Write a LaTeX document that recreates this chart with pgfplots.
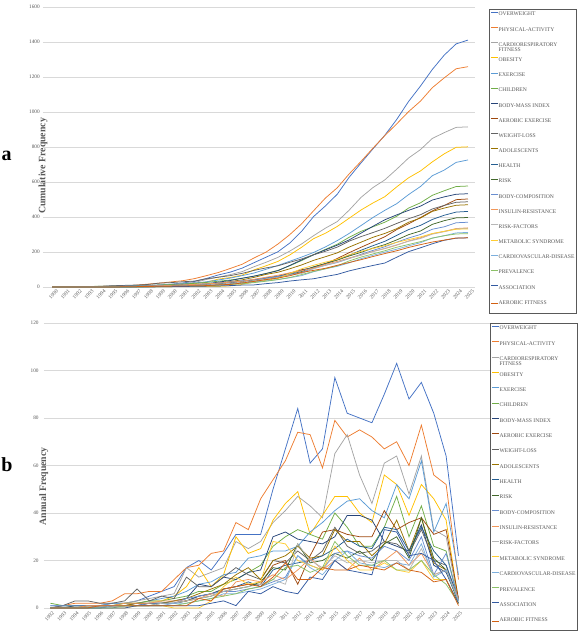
\documentclass[border=0pt]{standalone}
\usepackage{pgfplots}
\usepackage{pgfplotstable}
\pgfplotsset{compat=1.18}
\usepackage{fontspec}
\setmainfont{Liberation Serif}
\definecolor{c1}{HTML}{4472C4}\definecolor{c2}{HTML}{ED7D31}\definecolor{c3}{HTML}{A5A5A5}\definecolor{c4}{HTML}{FFC000}
\definecolor{c5}{HTML}{5B9BD5}\definecolor{c6}{HTML}{70AD47}\definecolor{c7}{HTML}{264478}\definecolor{c8}{HTML}{9E480E}
\definecolor{c9}{HTML}{636363}\definecolor{c10}{HTML}{997300}\definecolor{c11}{HTML}{255E91}\definecolor{c12}{HTML}{43682B}
\definecolor{c13}{HTML}{698ED0}\definecolor{c14}{HTML}{F1975A}\definecolor{c15}{HTML}{B7B7B7}\definecolor{c16}{HTML}{FFCD33}
\definecolor{c17}{HTML}{7CAFDD}\definecolor{c18}{HTML}{8CC168}\definecolor{c19}{HTML}{335AA1}\definecolor{c20}{HTML}{D26012}
\definecolor{gridc}{HTML}{D9D9D9}\definecolor{txtc}{HTML}{595959}

\pgfplotstableread{
name 1992 1993 1994 1995 1996 1997 1998 1999 2000 2001 2002 2003 2004 2005 2006 2007 2008 2009 2010 2011 2012 2013 2014 2015 2016 2017 2018 2019 2020 2021 2022 2023 2024 2025
OW 0 1 1 1 1 2 2 3 5 7 9 17 20 16 23 31 31 31 50 67 84 61 67 97 82 80 78 90 103 88 95 82 64 22
PA 0 1 2 2 2 3 6 6 7 7 12 17 18 23 24 36 33 46 54 62 74 73 59 79 72 75 72 67 70 60 77 56 52 12
CRF 0 1 1 1 1 2 2 3 4 5 6 17 13 15 17 28 25 28 36 41 47 43 38 65 73 56 44 61 64 48 64 33 30 3
OB 0 0 1 1 1 1 2 2 3 3 5 9 17 9 14 30 23 25 37 44 49 31 39 47 47 40 36 56 52 39 52 46 37 3
EX 1 1 1 1 1 2 2 2 3 4 5 7 10 11 14 15 21 22 24 24 26 32 36 41 45 46 41 38 52 46 62 32 44 14
CH 2 1 1 1 1 1 2 2 3 3 4 5 7 7 10 12 15 18 26 30 33 31 29 40 34 26 26 34 47 30 43 26 24 3
BMI 0 0 1 1 1 1 1 2 2 2 3 4 10 9 13 12 15 16 30 32 29 28 27 30 39 39 37 28 26 24 35 18 15 3
AEX 0 0 0 0 1 1 1 1 2 2 2 3 5 6 8 9 10 10 18 20 10 22 32 33 31 30 30 41 33 36 38 31 33 4
WL 0 1 3 3 2 2 3 8 3 5 4 13 9 9 13 17 14 12 20 19 24 20 24 34 26 23 24 28 27 23 33 20 18 3
ADO 0 0 0 1 1 1 1 2 2 2 3 4 6 8 10 14 17 12 20 22 26 21 22 33 28 28 22 27 37 24 38 19 16 3
HE 0 0 0 0 1 1 1 1 2 2 2 3 5 6 8 9 11 9 16 18 19 20 22 25 29 26 25 34 33 24 34 24 18 4
RI 0 0 0 0 0 1 1 1 1 2 2 3 4 5 7 8 9 11 17 16 27 19 20 23 21 24 20 27 30 21 38 21 16 2
BC 1 1 1 1 1 1 1 1 2 2 2 4 5 6 7 7 8 9 11 13 22 18 16 23 24 22 21 26 24 20 30 14 23 3
IR 0 0 0 1 1 1 2 2 2 3 3 3 4 6 5 11 12 11 14 12 16 21 16 20 16 21 16 20 24 18 23 14 16 4
RF 0 0 0 0 1 1 1 1 1 2 2 3 4 5 7 8 9 10 12 10 27 20 17 22 19 20 19 20 20 16 25 14 16 3
MS 0 0 0 0 0 0 0 1 1 1 0 0 0 3 9 13 10 11 28 27 20 18 16 26 20 16 16 19 16 15 20 12 12 2
CVD 0 0 0 0 0 1 1 1 1 1 2 2 3 4 6 6 7 8 10 12 22 17 14 20 24 19 18 17 19 18 27 13 16 3
PR 0 0 0 0 0 0 1 1 1 1 1 2 3 4 5 6 8 9 12 17 18 15 17 28 22 18 18 20 16 16 20 14 10 2
AS 0 0 0 0 0 0 0 1 1 1 1 1 1 2 3 1 7 6 9 7 6 13 12 20 16 15 14 33 32 22 23 20 12 2
AF 0 0 0 0 1 1 1 1 1 1 1 1 4 3 8 9 10 9 13 19 12 12 17 16 16 18 17 16 19 16 15 11 12 1
}\annualraw
\pgfplotstabletranspose[colnames from=name]\annual{\annualraw}

\pgfplotstableread{
name 1990 1991 1992 1993 1994 1995 1996 1997 1998 1999 2000 2001 2002 2003 2004 2005 2006 2007 2008 2009 2010 2011 2012 2013 2014 2015 2016 2017 2018 2019 2020 2021 2022 2023 2024 2025
OW 0 0 0 1 2 3 4 6 8 11 16 23 32 49 69 85 108 139 170 201 251 318 402 463 530 627 709 789 867 957 1060 1148 1243 1325 1389 1411
PA 0 0 0 1 3 5 7 10 16 22 29 36 48 65 83 106 130 166 199 245 299 361 435 508 567 646 718 793 865 932 1002 1062 1139 1195 1247 1259
CRF 0 0 0 1 2 3 4 6 8 11 15 20 26 43 56 71 88 116 141 169 205 246 293 336 374 439 512 568 612 673 737 785 849 882 912 915
OB 0 0 0 0 1 2 3 4 6 8 11 14 19 28 45 54 68 98 121 146 183 227 276 307 346 393 440 480 516 572 624 663 715 761 798 801
EX 0 0 1 2 3 4 5 7 9 11 14 18 23 30 40 51 65 80 101 123 147 171 197 229 265 306 351 397 438 476 528 574 636 668 712 726
CH 0 0 2 3 4 5 6 7 9 11 14 17 21 26 33 40 50 62 77 95 121 151 184 215 244 284 318 344 370 404 451 481 524 550 574 577
BMI 0 0 0 0 1 2 3 4 5 7 9 11 14 18 28 37 50 62 77 93 123 155 184 212 239 269 308 347 384 412 438 462 497 515 530 533
AEX 0 0 0 0 0 0 1 2 3 4 6 8 10 13 18 24 32 41 51 61 79 99 109 131 163 196 227 257 287 328 361 397 435 466 499 503
WL 0 0 0 1 4 7 9 11 14 22 25 30 34 47 56 65 78 95 109 121 141 160 184 204 228 262 288 311 335 363 390 413 446 466 484 487
ADO 0 0 0 0 0 1 2 3 4 6 8 10 13 17 23 31 41 55 72 84 104 126 152 173 195 228 256 284 306 333 370 394 432 451 467 470
HE 0 0 0 0 0 0 1 2 3 4 6 8 10 13 18 24 32 41 52 61 77 95 114 134 156 181 210 236 261 295 328 352 386 410 428 432
RI 0 0 0 0 0 0 0 1 2 3 4 6 8 11 15 20 27 35 44 55 72 88 115 134 154 177 198 222 242 269 299 320 358 379 395 397
BC 0 0 1 2 3 4 5 6 7 8 10 12 14 18 23 29 36 43 51 60 71 84 106 124 140 163 187 209 230 256 280 300 330 344 367 370
IR 0 0 0 0 0 1 2 3 5 7 9 12 15 18 22 28 33 44 56 67 81 93 109 130 146 166 182 203 219 239 263 281 304 318 334 338
RF 0 0 0 0 0 0 1 2 3 4 5 7 9 12 16 21 28 36 45 55 67 77 104 124 141 163 182 202 221 241 261 277 302 316 332 335
MS 0 0 0 0 0 0 0 0 0 1 2 3 3 3 3 6 15 28 38 49 77 104 124 142 158 184 204 220 236 255 271 286 306 318 330 332
CVD 0 0 0 0 0 0 0 1 2 3 4 5 7 9 12 16 22 28 35 43 53 65 87 104 118 138 162 181 199 216 235 253 280 293 309 312
PR 0 0 0 0 0 0 0 0 1 2 3 4 5 7 10 14 19 25 33 42 54 71 89 104 121 149 171 189 207 227 243 259 279 293 303 305
AS 0 0 0 0 0 0 0 0 0 1 2 3 4 5 6 8 11 12 19 25 34 41 47 60 72 92 108 123 137 170 202 224 247 267 279 281
AF 0 0 0 0 0 0 1 2 3 4 5 6 7 8 12 15 23 32 42 51 64 83 95 107 124 140 156 174 191 207 226 242 257 268 280 281
}\cumraw
\pgfplotstabletranspose[colnames from=name]\cum{\cumraw}

\pgfplotsset{
  myax/.style={
    scale only axis, enlargelimits=false, clip=false,
    axis line style={draw=none}, major tick length=0pt,
    ymajorgrids, grid style={draw=gridc, line width=0.5pt},
    tick label style={font=\fontsize{5.3}{6}\selectfont, text=txtc},
    /pgf/number format/assume math mode=true,
    /pgf/number format/1000 sep={},
    every axis y label/.style={at={(axis description cs:0,0.5)}, rotate=90, anchor=center,
      font=\bfseries\fontsize{9.8}{12}\selectfont, text=txtc},
    every axis plot/.append style={line width=0.75pt, no markers},
    legend cell align=left,
    legend image code/.code={\draw[##1] (0pt,1.8pt) -- (6.5pt,1.8pt);},
    legend style={anchor=north west, draw=black!65, line width=0.8pt,
      inner xsep=1.5pt, inner ysep=2.5pt, fill=white,
      font=\fontsize{5.6}{6.5}\selectfont, text=txtc,
      nodes={inner xsep=0.5pt, inner ysep=0pt, text height=3.8pt, text depth=0pt},
      column sep=0pt},
  }
}
\newcommand{\crf}{\smash{\begin{tabular}[t]{@{}l@{}}CARDIORESPIRATORY\\[-1.2pt]FITNESS\end{tabular}}}
\newcommand{\plotall}[1]{%
  \addplot[c1] table[x=colnames,y=OW]{#1};\addlegendentry{OVERWEIGHT}
  \addplot[c2] table[x=colnames,y=PA]{#1};\addlegendentry{PHYSICAL-ACTIVITY}
  \addplot[c3] table[x=colnames,y=CRF]{#1};\addlegendentry{\crf}
  \addplot[c4] table[x=colnames,y=OB]{#1};\addlegendentry{OBESITY}
  \addplot[c5] table[x=colnames,y=EX]{#1};\addlegendentry{EXERCISE}
  \addplot[c6] table[x=colnames,y=CH]{#1};\addlegendentry{CHILDREN}
  \addplot[c7] table[x=colnames,y=BMI]{#1};\addlegendentry{BODY-MASS INDEX}
  \addplot[c8] table[x=colnames,y=AEX]{#1};\addlegendentry{AEROBIC EXERCISE}
  \addplot[c9] table[x=colnames,y=WL]{#1};\addlegendentry{WEIGHT-LOSS}
  \addplot[c10] table[x=colnames,y=ADO]{#1};\addlegendentry{ADOLESCENTS}
  \addplot[c11] table[x=colnames,y=HE]{#1};\addlegendentry{HEALTH}
  \addplot[c12] table[x=colnames,y=RI]{#1};\addlegendentry{RISK}
  \addplot[c13] table[x=colnames,y=BC]{#1};\addlegendentry{BODY-COMPOSITION}
  \addplot[c14] table[x=colnames,y=IR]{#1};\addlegendentry{INSULIN-RESISTANCE}
  \addplot[c15] table[x=colnames,y=RF]{#1};\addlegendentry{RISK-FACTORS}
  \addplot[c16] table[x=colnames,y=MS]{#1};\addlegendentry{METABOLIC SYNDROME}
  \addplot[c17] table[x=colnames,y=CVD]{#1};\addlegendentry{CARDIOVASCULAR-DISEASE}
  \addplot[c18] table[x=colnames,y=PR]{#1};\addlegendentry{PREVALENCE}
  \addplot[c19] table[x=colnames,y=AS]{#1};\addlegendentry{ASSOCIATION}
  \addplot[c20] table[x=colnames,y=AF]{#1};\addlegendentry[text depth=6.5pt]{AEROBIC FITNESS}
}

\begin{document}
\begin{tikzpicture}
\path[use as bounding box] (0,0) rectangle (579pt,638pt);
\begin{axis}[myax, at={(43pt,351pt)}, anchor=south west,
  width=432pt, height=280pt,
  xmin=1989.24, xmax=2025.59, ymin=0, ymax=1600,
  xtick={1990,1991,...,2025}, ytick={0,200,...,1600},
  xticklabel style={rotate=45, anchor=east, inner sep=0pt, xshift=1.5pt, yshift=-6pt},
  yticklabel style={inner sep=0pt, xshift=-3pt},
  ylabel={Cumulative Frequency}, ylabel style={xshift=-19pt},
  legend style={at={(1.0324,0.9929)}, row sep=11.1pt}]
\plotall{\cum}
\end{axis}
\begin{axis}[myax, at={(43.8pt,30pt)}, anchor=south west,
  width=446.7pt, height=285pt,
  xmin=1991.46, xmax=2027.59, ymin=0, ymax=120,
  xtick={1992,1993,...,2025}, ytick={0,20,...,120},
  xticklabel style={rotate=45, anchor=east, inner sep=0pt, xshift=-1pt, yshift=-5pt},
  yticklabel style={inner sep=0pt, xshift=-5pt},
  ylabel={Annual Frequency}, ylabel style={xshift=-20.8pt},
  legend style={at={(0.9989,1.0)}, row sep=11.28pt}]
\plotall{\annual}
\end{axis}
\node[font=\bfseries\fontsize{20}{22}\selectfont] at (6.7pt,482pt) {a};
\node[font=\bfseries\fontsize{20}{22}\selectfont] at (7pt,173pt) {b};
\end{tikzpicture}
\end{document}
